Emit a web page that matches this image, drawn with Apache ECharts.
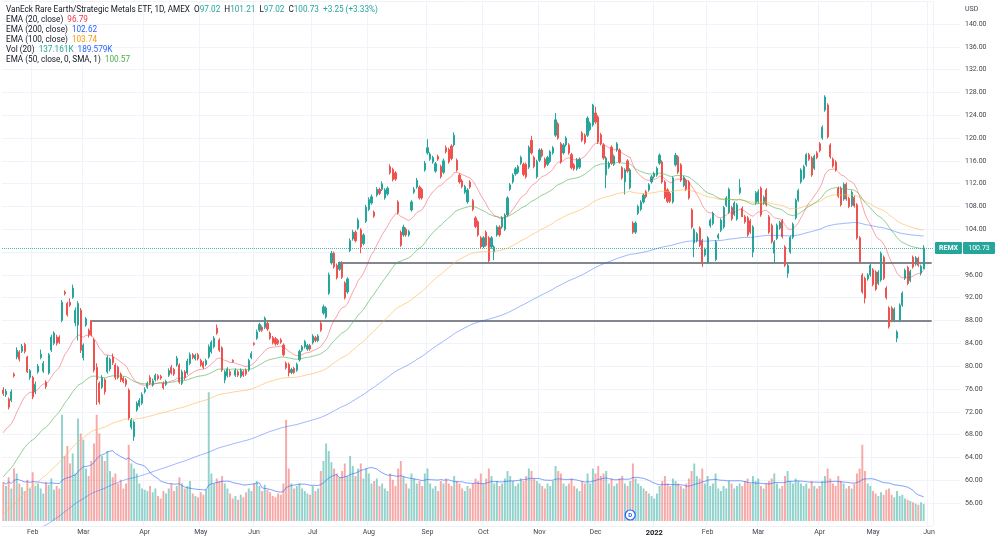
<!DOCTYPE html>
<html>
<head>
<meta charset="utf-8">
<script src="https://cdn.jsdelivr.net/npm/echarts@6/dist/echarts.min.js"></script>
<style>
html,body{margin:0;padding:0;background:#fff}
#chart{width:1000px;height:541px}
</style>
</head>
<body>
<div id="chart"></div>
<script>
// REMX daily, 2021-01-14 .. 2022-05-27
var opens=[75.8,75.0,74.2,74.0,78.6,81.6,82.5,82.6,83.8,81.6,
78.0,78.0,75.5,79.0,81.5,79.1,77.2,78.8,82.8,84.0,
85.1,85.1,88.0,93.0,91.0,91.2,92.1,87.6,87.2,89.8,
81.5,87.2,86.3,88.0,84.6,79.8,77.0,76.3,77.6,79.0,
79.5,81.6,80.2,79.8,78.6,77.9,77.6,75.8,69.3,67.6,
72.3,73.1,73.5,75.5,76.3,78.0,76.7,77.6,78.3,78.2,
77.0,76.8,78.4,79.8,79.4,80.2,80.2,77.0,79.0,78.8,
80.5,82.0,81.3,82.0,81.0,80.6,80.3,81.6,82.5,83.4,
86.7,84.6,83.2,77.6,78.3,79.0,81.0,78.4,79.0,78.2,
79.0,79.3,79.3,81.5,84.0,84.9,86.3,86.8,86.8,87.5,
85.8,85.0,84.8,84.5,84.6,83.7,80.5,80.3,78.9,79.6,
79.3,81.1,82.8,83.4,83.0,83.6,84.1,85.0,84.5,87.5,
89.3,88.6,92.8,98.1,99.8,97.7,97.0,98.1,94.6,93.0,
100.3,102.3,103.5,104.2,103.9,101.5,105.4,107.5,108.6,107.0,
110.0,111.0,111.0,109.5,110.2,115.0,114.5,113.9,108.8,103.5,
103.0,104.0,103.0,107.4,110.5,111.4,111.4,111.0,114.4,117.4,
116.3,115.8,114.2,116.8,115.0,114.0,118.3,118.0,118.6,118.8,
116.1,113.5,112.5,110.5,108.8,112.3,109.0,106.0,105.3,102.5,
101.0,103.5,102.5,100.9,100.0,103.0,104.4,104.4,104.0,106.5,
111.0,112.3,113.7,114.0,115.6,115.4,115.4,114.9,119.6,116.6,
113.2,116.1,117.9,116.3,115.4,115.9,117.4,120.5,122.5,119.0,
117.4,118.8,118.8,117.1,115.3,114.6,114.9,120.9,120.5,120.5,
121.5,122.3,124.4,123.7,120.6,118.8,113.5,114.9,118.4,115.4,
117.9,117.9,114.8,112.3,116.0,111.3,105.1,103.5,106.8,107.5,
108.8,110.6,110.9,112.3,113.2,113.5,115.6,115.8,112.3,110.9,
110.3,108.8,115.3,116.7,115.3,111.7,112.6,112.3,107.4,101.6,
102.0,104.2,102.0,99.5,98.2,104.6,105.0,98.7,102.5,103.8,
104.4,108.2,107.0,107.8,106.6,105.8,110.4,107.7,106.2,106.0,
105.5,100.0,108.6,108.8,111.2,108.6,110.9,106.2,104.7,99.8,
102.4,104.2,105.5,100.9,96.3,100.0,102.6,106.0,109.1,112.3,
113.0,115.3,117.1,116.5,114.7,117.4,119.0,120.0,124.9,125.8,
118.8,116.3,115.8,111.2,111.2,109.3,111.9,109.4,108.2,109.6,
108.3,102.5,96.0,95.4,95.3,96.0,96.9,96.5,94.5,95.1,
99.1,93.7,90.2,90.2,88.0,84.9,88.0,90.7,95.4,97.3,
95.0,99.1,97.9,98.9,96.3,97.02];

var closes=[75.2,75.6,72.8,75.5,78.3,82.8,81.2,83.5,82.6,79.0,
79.2,74.6,76.8,80.0,82.1,80.5,76.4,82.0,85.1,85.8,
84.0,84.2,91.2,92.7,89.0,90.7,93.7,89.8,91.0,82.8,
83.7,88.3,85.5,85.5,79.3,77.6,73.7,78.0,75.5,81.5,
81.2,80.6,78.0,78.0,77.6,77.3,76.8,70.9,70.6,70.2,
73.5,74.0,75.0,75.9,77.0,77.0,77.4,78.4,77.8,77.9,
76.2,77.3,79.2,78.8,78.6,81.4,77.2,79.0,78.0,80.9,
82.0,81.5,81.9,81.3,80.2,79.8,81.0,83.4,84.2,84.9,
85.8,82.8,79.3,79.0,79.5,78.4,80.8,79.3,78.4,79.3,
78.4,78.6,81.0,82.2,83.8,86.0,87.3,86.3,88.4,86.5,
84.9,84.1,83.9,84.0,84.2,82.0,79.7,78.8,79.4,78.9,
80.3,82.6,83.4,84.3,83.6,83.0,85.3,84.5,85.3,86.3,
90.4,90.2,96.0,99.8,97.4,95.5,98.2,95.6,92.0,95.3,
102.0,103.5,102.0,105.6,100.9,103.0,107.9,109.2,109.7,106.3,
111.0,110.3,112.0,110.9,111.2,113.9,112.7,112.8,106.9,101.2,
104.4,103.0,103.6,108.8,111.0,112.6,109.5,109.5,115.6,118.3,
117.2,116.6,115.5,116.3,113.2,116.0,117.6,115.8,116.4,120.5,
114.4,112.3,111.5,111.5,110.9,111.4,107.5,104.5,103.0,100.9,
102.5,101.2,98.5,102.5,100.9,104.4,103.0,106.0,106.5,109.5,
111.8,113.5,114.6,115.0,116.6,113.6,113.2,118.4,117.4,115.0,
115.9,117.9,116.9,115.0,116.6,117.6,118.3,123.2,120.0,115.8,
118.8,120.0,117.4,114.8,114.6,116.2,116.3,119.6,119.2,123.5,
122.6,125.8,122.8,119.3,119.0,116.5,116.5,115.6,115.6,116.8,
119.0,115.8,113.0,114.4,114.2,114.4,103.5,105.1,108.0,108.8,
110.0,109.7,111.8,113.2,113.8,114.7,117.0,112.3,109.6,108.9,
108.9,113.0,117.0,114.0,112.6,113.1,111.0,109.5,104.4,103.9,
103.2,101.2,98.2,100.5,102.5,105.6,106.8,101.8,103.0,105.6,
107.8,109.5,111.0,105.8,108.6,108.3,111.3,106.2,105.3,103.0,
103.5,104.4,110.4,110.6,106.5,109.6,108.3,103.5,101.8,101.8,
104.7,105.2,102.7,97.7,97.7,102.6,104.9,109.1,110.8,114.4,
115.0,117.1,116.3,113.5,116.8,116.6,117.8,121.9,127.2,120.2,
116.7,115.1,114.4,109.8,108.3,111.9,109.3,108.0,110.5,108.1,
102.5,98.3,93.0,91.9,96.0,97.7,94.3,93.5,96.5,99.8,
95.4,92.0,86.9,88.0,90.0,86.0,90.7,92.8,96.8,94.5,
96.6,97.4,99.0,97.7,97.5,100.73];

var highs=[76.3,76.0,74.5,75.9,78.9,83.3,82.8,83.9,84.1,81.8,
79.5,78.3,77.3,80.4,82.9,80.9,77.5,82.3,85.5,86.1,
85.5,85.4,91.6,93.3,91.3,91.9,94.3,90.3,91.4,90.2,
84.0,88.6,86.6,88.0,84.9,80.5,77.3,78.4,77.9,81.9,
81.5,82.2,80.5,80.1,78.9,78.2,77.9,76.1,70.9,70.5,
73.8,74.4,75.4,76.3,77.3,78.4,77.8,78.7,78.6,78.5,
77.3,77.6,79.6,80.2,79.7,81.8,80.5,79.4,79.3,81.3,
82.4,82.3,82.2,82.3,81.3,80.9,81.3,83.8,84.5,85.3,
87.3,84.9,83.5,79.3,79.8,79.4,81.2,79.6,79.3,79.6,
79.3,79.6,81.3,82.6,84.2,86.4,87.6,87.1,88.7,87.8,
86.1,85.3,85.1,84.8,84.9,84.0,80.8,80.6,79.7,79.9,
80.6,82.9,83.7,84.6,83.9,83.9,85.6,85.3,85.6,88.0,
90.8,90.5,96.4,100.2,100.1,98.0,98.3,98.4,94.9,95.6,
102.4,103.9,103.8,106.0,104.2,103.3,108.3,109.6,110.1,107.3,
111.4,111.3,112.4,111.2,111.5,115.4,114.8,114.2,109.1,103.8,
104.8,104.3,103.9,109.1,111.4,113.0,111.7,111.3,116.0,119.8,
117.5,116.9,115.8,117.1,115.3,116.4,118.7,118.3,118.9,121.0,
116.4,113.8,112.8,111.8,111.2,112.6,109.3,106.3,105.6,102.8,
102.8,103.8,102.8,102.8,101.2,104.7,104.7,106.3,106.8,109.8,
112.1,113.8,114.9,115.3,116.9,115.7,115.7,118.7,120.4,116.9,
116.2,118.2,118.2,116.6,116.9,117.9,118.6,124.4,122.8,119.3,
119.1,120.3,119.1,117.4,115.6,116.5,116.6,121.2,120.8,123.8,
122.9,126.0,125.5,124.0,120.9,119.1,116.8,115.9,118.7,117.1,
119.3,118.2,115.1,114.7,116.3,114.7,105.4,105.4,108.3,109.1,
110.3,110.9,112.1,113.5,114.1,115.0,117.3,116.1,112.6,111.2,
110.6,113.3,117.4,117.0,115.6,113.4,112.9,112.6,107.7,104.2,
103.5,104.5,102.3,100.8,102.8,105.9,107.1,102.1,103.3,105.9,
108.1,109.8,111.3,108.1,108.9,108.6,112.8,108.0,106.5,106.3,
105.8,104.7,110.7,111.0,111.5,109.9,111.2,106.5,105.0,102.1,
105.0,105.5,105.8,101.2,98.0,102.9,105.2,109.4,111.1,114.7,
115.3,117.4,117.4,116.8,117.1,117.7,119.3,122.2,127.5,126.1,
119.1,116.6,116.1,111.5,111.5,112.2,112.2,109.7,110.8,109.9,
108.6,102.8,96.3,95.7,96.3,98.0,97.2,96.8,96.8,100.1,
99.4,94.0,90.5,90.5,90.3,86.3,91.0,93.1,97.1,97.6,
96.9,99.4,99.3,99.2,97.8,101.21];

var lows=[74.8,74.6,72.4,73.7,78.0,81.2,80.8,82.3,82.2,78.8,
77.6,74.2,75.1,78.7,81.2,78.8,76.0,78.5,82.5,83.7,
83.6,83.9,87.7,92.4,88.7,90.4,91.8,87.0,84.5,82.3,
81.0,86.9,85.0,85.2,78.9,73.2,73.3,76.0,75.0,78.7,
79.1,80.2,77.6,77.7,77.2,77.0,76.4,70.5,68.9,66.9,
72.0,72.8,73.2,75.2,76.0,76.7,76.4,77.3,77.5,77.6,
75.9,76.5,78.1,78.5,78.3,79.9,76.9,76.7,77.6,78.5,
80.2,81.2,81.0,81.0,79.9,79.5,80.0,81.3,82.2,83.1,
85.5,82.5,79.0,77.0,78.0,78.1,80.6,78.1,78.1,77.9,
78.1,78.3,79.0,81.2,83.6,84.6,86.0,86.0,86.5,86.2,
84.6,83.8,83.6,83.7,83.9,81.7,79.4,78.2,78.6,78.6,
79.0,80.8,82.5,83.1,82.7,82.7,83.8,84.2,84.2,86.0,
89.0,88.3,92.5,97.8,97.1,95.2,96.7,95.3,91.7,92.7,
100.0,102.0,101.7,103.9,99.8,101.2,105.1,107.2,108.3,106.0,
109.7,110.0,110.7,109.2,109.9,113.6,112.4,112.5,106.6,100.9,
102.7,102.7,102.7,107.1,110.2,111.1,109.2,109.2,114.1,117.1,
116.0,115.5,113.9,116.0,112.9,113.7,117.3,115.5,116.1,118.5,
114.1,112.0,111.2,110.2,108.5,111.1,107.2,104.2,102.7,100.6,
100.7,100.9,98.2,100.6,98.6,102.7,102.7,104.1,103.7,106.2,
110.7,112.0,113.4,113.7,115.3,113.3,112.9,114.6,117.1,114.7,
112.9,115.8,116.6,114.7,115.1,115.6,117.1,120.2,119.7,115.5,
117.1,118.5,117.1,114.5,114.3,114.3,114.6,119.3,118.9,120.2,
121.2,122.0,122.5,119.0,118.7,116.2,111.2,114.6,115.3,115.1,
117.6,115.5,112.7,110.1,113.9,111.0,103.2,103.2,106.5,107.2,
108.5,109.4,110.6,112.0,112.9,113.2,115.3,112.0,109.3,108.6,
108.6,108.5,115.0,113.7,112.3,111.4,110.7,109.2,104.1,99.1,
101.7,100.9,97.4,99.2,97.9,104.3,104.7,98.4,102.2,103.5,
104.1,107.9,106.7,105.5,106.3,105.5,110.1,106.6,105.0,102.7,
103.2,99.1,108.3,108.5,106.2,108.3,108.0,103.2,101.5,98.0,
102.1,103.9,102.4,97.4,95.5,99.7,102.3,105.7,108.8,112.0,
112.7,115.0,116.0,113.2,114.4,116.3,117.5,119.7,124.6,119.9,
116.4,114.8,114.1,109.5,108.0,109.0,109.0,107.7,107.9,107.8,
102.2,98.0,92.7,91.0,95.0,95.7,94.0,93.2,94.2,94.8,
95.1,91.7,86.6,87.7,87.7,84.2,87.7,90.4,95.1,94.2,
94.7,97.1,97.6,97.4,95.9,97.02];

// volume in thousands of shares
var volumes=[310,280,350,260,420,380,300,270,240,330,260,390,280,300,260,220,310,290,340,250,
280,260,850,520,600,460,540,380,820,700,650,420,360,480,620,850,700,520,480,560,
400,350,380,300,330,260,300,610,460,420,380,300,260,250,240,280,230,260,200,180,
240,220,260,300,240,280,350,300,260,280,320,220,200,190,230,210,250,1030,380,300,
340,320,360,300,260,220,180,200,170,210,190,230,260,240,300,320,280,240,290,250,
230,200,190,220,210,300,810,420,300,260,280,300,260,240,220,210,280,240,260,400,
480,620,560,470,420,380,350,400,460,360,520,440,360,420,460,340,420,380,300,320,
340,280,300,260,240,380,330,280,420,480,360,300,260,380,340,300,320,280,380,420,
300,260,280,240,320,300,340,300,280,360,320,300,260,240,280,260,300,340,320,380,
300,340,420,360,300,320,280,300,340,400,360,320,280,300,340,320,360,420,400,340,
320,300,280,260,300,280,320,440,400,380,300,280,300,340,280,260,240,320,300,380,
300,420,380,440,360,380,400,300,340,280,300,340,360,300,280,320,460,340,300,280,
260,240,220,200,180,220,280,320,360,300,280,340,320,300,280,260,300,340,400,460,
360,340,420,300,360,280,300,380,260,240,280,260,320,300,260,280,300,280,320,340,
300,360,320,340,280,260,300,320,340,380,300,260,280,360,400,320,300,340,320,300,
280,300,260,320,280,260,280,320,360,420,340,300,280,360,320,300,260,280,260,300,
380,420,610,400,300,280,
240,220,200,230,210,250,260,210,190,240,200,210,180,170,160,150,140,130,150,137.161];

// horizontal levels drawn on the chart: start bar index and price
var levelStarts=[33,126];
var levelPrices=[88.0,98.2];
var lastPrice=100.73;
var dividendBar=235;

// EMA values at the first visible bar (history before the window)
var emaSeeds={20:68.3,50:60.6,100:54.1,200:47.5};

var holidays=['2021-01-18','2021-02-15','2021-04-02','2021-05-31','2021-07-05','2021-09-06',
'2021-11-25','2021-12-24','2022-01-17','2022-02-21','2022-04-15','2022-05-30'];
var monthNames=['Jan','Feb','Mar','Apr','May','Jun','Jul','Aug','Sep','Oct','Nov','Dec'];

function buildDates(n){
	var out=[],d=new Date(Date.UTC(2021,0,14));
	while(out.length<n){
		var wd=d.getUTCDay(),s=d.toISOString().slice(0,10);
		if(wd!==0&&wd!==6&&holidays.indexOf(s)<0) out.push(s);
		d.setUTCDate(d.getUTCDate()+1);
	}
	return out;
}
var dates=buildDates(closes.length+3);

var labelMap={};
for(var i=1;i<dates.length;i++){
	if(dates[i].slice(5,7)!==dates[i-1].slice(5,7)){
		var m=+dates[i].slice(5,7);
		labelMap[i]= m===1 ? '{y|'+dates[i].slice(0,4)+'}' : monthNames[m-1];
	}
}

function ema(src,n,seed){
	var k=2/(n+1),v=seed,out=[];
	for(var i=0;i<src.length;i++){
		if(i>0) v=v+k*(src[i]-v);
		out.push(+v.toFixed(3));
	}
	return out;
}
function sma(src,n){
	var out=[];
	for(var i=0;i<src.length;i++){
		var s=0,c=0;
		for(var j=Math.max(0,i-n+1);j<=i;j++){s+=src[j];c++;}
		out.push(+(s/c).toFixed(2));
	}
	return out;
}

var candleData=[],volData=[];
for(var i=0;i<closes.length;i++){
	candleData.push([opens[i],closes[i],lows[i],highs[i]]);
	var up=closes[i]>=opens[i];
	volData.push({value:volumes[i],itemStyle:{color: up ? 'rgba(38,166,154,0.5)' : 'rgba(239,83,80,0.5)'}});
}

var UP='#26a69a',DOWN='#ef5350',GRID='#f0f3fa',TXT='#434651',FONT='Roboto';

var levelLines=[{yAxis:lastPrice,lineStyle:{type:'dotted',color:UP,width:1,opacity:0.8}}];
for(var i=0;i<levelStarts.length;i++){
	levelLines.push([
		{coord:[dates[levelStarts[i]],levelPrices[i]],lineStyle:{type:'solid',color:'#83868e',width:2}},
		{coord:[dates[dates.length-1],levelPrices[i]]}
	]);
}

function lineSeries(name,data,color){
	return {name:name,type:'line',data:data,xAxisIndex:0,yAxisIndex:0,showSymbol:false,symbol:'none',
		silent:true,z:6,lineStyle:{color:color,width:1}};
}

var chart=echarts.init(document.getElementById('chart'));
var option={
	animation:false,
	backgroundColor:'#ffffff',
	grid:[
		{left:2,right:67,top:1.2,bottom:15.2},
		{left:2,right:67,top:0,bottom:20}
	],
	xAxis:[
		{type:'category',gridIndex:0,data:dates,
			axisLine:{show:false},axisTick:{show:false},
			axisLabel:{color:TXT,fontSize:7,fontFamily:FONT,margin:3,
				interval:function(idx){return labelMap[idx]!==undefined;},
				formatter:function(v,idx){return labelMap[idx]||'';},
				rich:{y:{fontWeight:'bold',fontSize:7.5,color:'#131722',fontFamily:FONT}}},
			splitLine:{show:true,lineStyle:{color:GRID,width:1},
				interval:function(idx){return labelMap[idx]!==undefined;}}},
		{type:'category',gridIndex:1,data:dates,show:false}
	],
	yAxis:[
		{type:'value',gridIndex:0,position:'right',min:52,max:144,interval:4,
			axisLine:{show:false},
			axisTick:{show:true,length:27,lineStyle:{color:GRID}},
			axisLabel:{color:TXT,fontSize:7,fontFamily:FONT,margin:32,showMinLabel:false,showMaxLabel:false,
				formatter:function(v){return v.toFixed(2);}},
			splitLine:{lineStyle:{color:GRID,width:1}}},
		{type:'value',gridIndex:1,min:0,max:4168,show:false}
	],
	series:[
		{name:'Volume',type:'bar',xAxisIndex:1,yAxisIndex:1,data:volData,barWidth:'72%',z:1,silent:true},
		{name:'Vol MA',type:'line',xAxisIndex:1,yAxisIndex:1,data:sma(volumes,20),showSymbol:false,symbol:'none',
			silent:true,z:2,lineStyle:{color:'rgba(41,98,255,0.6)',width:1}},
		{name:'REMX',type:'candlestick',xAxisIndex:0,yAxisIndex:0,data:candleData,barWidth:'62%',z:5,
			itemStyle:{color:UP,color0:DOWN,borderColor:UP,borderColor0:DOWN,borderWidth:1},
			markLine:{silent:true,symbol:['none','none'],label:{show:false},data:levelLines}},
		lineSeries('EMA200',ema(closes,200,emaSeeds[200]),'rgba(41,98,255,0.45)'),
		lineSeries('EMA100',ema(closes,100,emaSeeds[100]),'rgba(255,183,77,0.6)'),
		lineSeries('EMA50',ema(closes,50,emaSeeds[50]),'rgba(76,175,80,0.6)'),
		lineSeries('EMA20',ema(closes,20,emaSeeds[20]),'rgba(242,54,69,0.45)')
	]
};
chart.setOption(option);

// header, price tag, dividend flag
var py=chart.convertToPixel({yAxisIndex:0},lastPrice);
var dx=chart.convertToPixel({xAxisIndex:1},dates[dividendBar]);
var HF='8.2px '+FONT;
function rt(color){return {fill:color,font:HF};}
var rich={n:rt('#131722'),g:rt(UP),r:rt('#f23645'),b:rt('#2962ff'),o:rt('#ff9800'),gr:rt('#4caf50')};
var headerLines=[
	'{n|VanEck Rare Earth/Strategic Metals ETF, 1D, AMEX}  {n|O}{g|97.02}  {n|H}{g|101.21}  {n|L}{g|97.02}  {n|C}{g|100.73}  {g|+3.25 (+3.33%)}',
	'{n|EMA (20, close)}  {r|96.79}',
	'{n|EMA (200, close)}  {b|102.62}',
	'{n|EMA (100, close)}  {o|103.74}',
	'{n|Vol (20)}  {g|137.161K}  {b|189.579K}',
	'{n|EMA (50, close, 0, SMA, 1)}  {gr|100.57}'
];
var graphics=[];
for(var i=0;i<headerLines.length;i++){
	graphics.push({type:'text',left:6,top:6.2+i*9.85,z:100,style:{text:headerLines[i],rich:rich,font:HF,fill:'#131722'}});
}
graphics.push({type:'text',x:965,y:9,z:100,style:{text:'USD',font:'7px '+FONT,fill:TXT,verticalAlign:'middle'}});
graphics.push({type:'rect',z:100,shape:{x:935,y:py-6,width:27,height:12,r:1},style:{fill:UP}});
graphics.push({type:'text',z:101,x:948.5,y:py,style:{text:'REMX',font:'bold 7px '+FONT,fill:'#fff',align:'center',verticalAlign:'middle'}});
graphics.push({type:'rect',z:100,shape:{x:963,y:py-6,width:32,height:12,r:1},style:{fill:UP}});
graphics.push({type:'text',z:101,x:979,y:py,style:{text:lastPrice.toFixed(2),font:'7px '+FONT,fill:'#fff',align:'center',verticalAlign:'middle'}});
graphics.push({type:'circle',z:100,shape:{cx:dx,cy:515,r:5},style:{fill:'#fff',stroke:'#2962ff',lineWidth:1.2}});
graphics.push({type:'text',z:101,x:dx,y:515.5,style:{text:'D',font:'bold 6px '+FONT,fill:'#2962ff',align:'center',verticalAlign:'middle'}});
chart.setOption({graphic:graphics});
</script>
</body>
</html>
